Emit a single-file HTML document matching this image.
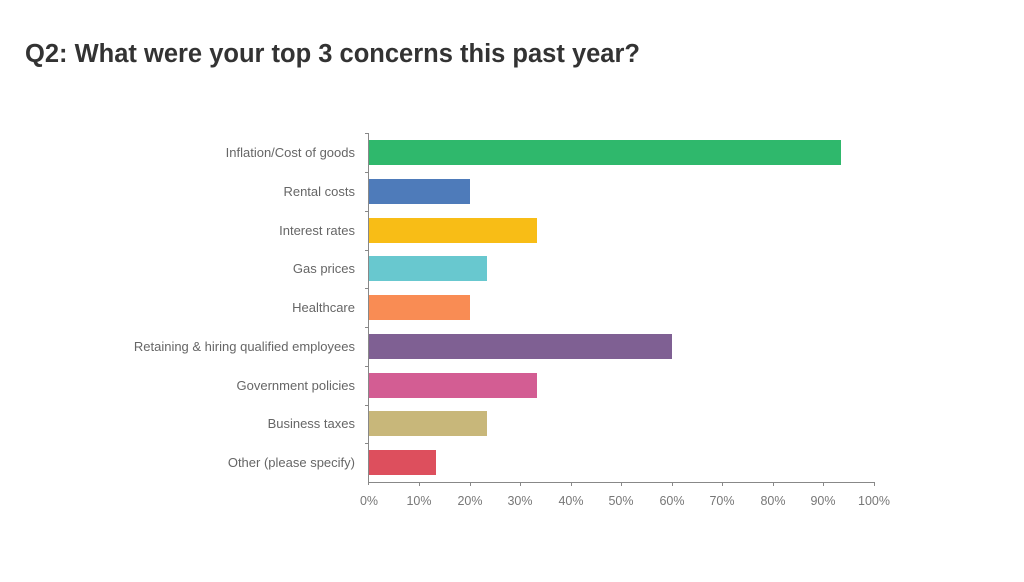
<!DOCTYPE html>
<html><head><style>
body{margin:0;background:#fff;width:1024px;height:577px;overflow:hidden}
</style></head><body>
<svg width="1024" height="577" xmlns="http://www.w3.org/2000/svg" font-family="Liberation Sans, sans-serif">
<text x="25" y="62" font-size="25.5" font-weight="bold" fill="#333">Q2: What were your top 3 concerns this past year?</text>
<g id="bars">
<rect x="369" y="140" width="472" height="25" fill="#2fb86c"/>
<rect x="369" y="179" width="101" height="25" fill="#4e7bba"/>
<rect x="369" y="218" width="168" height="25" fill="#f8bd16"/>
<rect x="369" y="256" width="118" height="25" fill="#68c8cf"/>
<rect x="369" y="295" width="101" height="25" fill="#f98c54"/>
<rect x="369" y="334" width="303" height="25" fill="#7f6093"/>
<rect x="369" y="373" width="168" height="25" fill="#d35d93"/>
<rect x="369" y="411" width="118" height="25" fill="#c8b77a"/>
<rect x="369" y="450" width="67" height="25" fill="#dd4f5d"/>
</g>
<g stroke="#888" stroke-width="1">
<line x1="368.5" y1="133" x2="368.5" y2="485"/>
<line x1="368" y1="482.5" x2="875" y2="482.5"/>
<path d="M365 133.5h4M365 172.5h4M365 211.5h4M365 250.5h4M365 288.5h4M365 327.5h4M365 366.5h4M365 405.5h4M365 443.5h4"/>
<path d="M419.5 482v4M470.5 482v4M520.5 482v4M571.5 482v4M621.5 482v4M672.5 482v4M722.5 482v4M773.5 482v4M823.5 482v4M874.5 482v4"/>
</g>
<g font-size="13" fill="#666" text-anchor="end">
<text x="355" y="157">Inflation/Cost of goods</text>
<text x="355" y="196">Rental costs</text>
<text x="355" y="235">Interest rates</text>
<text x="355" y="273">Gas prices</text>
<text x="355" y="312">Healthcare</text>
<text x="355" y="351">Retaining &amp; hiring qualified employees</text>
<text x="355" y="390">Government policies</text>
<text x="355" y="428">Business taxes</text>
<text x="355" y="467">Other (please specify)</text>
</g>
<g font-size="12.5" fill="#777" text-anchor="middle">
<text x="369" y="505">0%</text><text x="419" y="505">10%</text><text x="470" y="505">20%</text>
<text x="520" y="505">30%</text><text x="571" y="505">40%</text><text x="621" y="505">50%</text>
<text x="672" y="505">60%</text><text x="722" y="505">70%</text><text x="773" y="505">80%</text>
<text x="823" y="505">90%</text><text x="874" y="505">100%</text>
</g>
</svg>
</body></html>
